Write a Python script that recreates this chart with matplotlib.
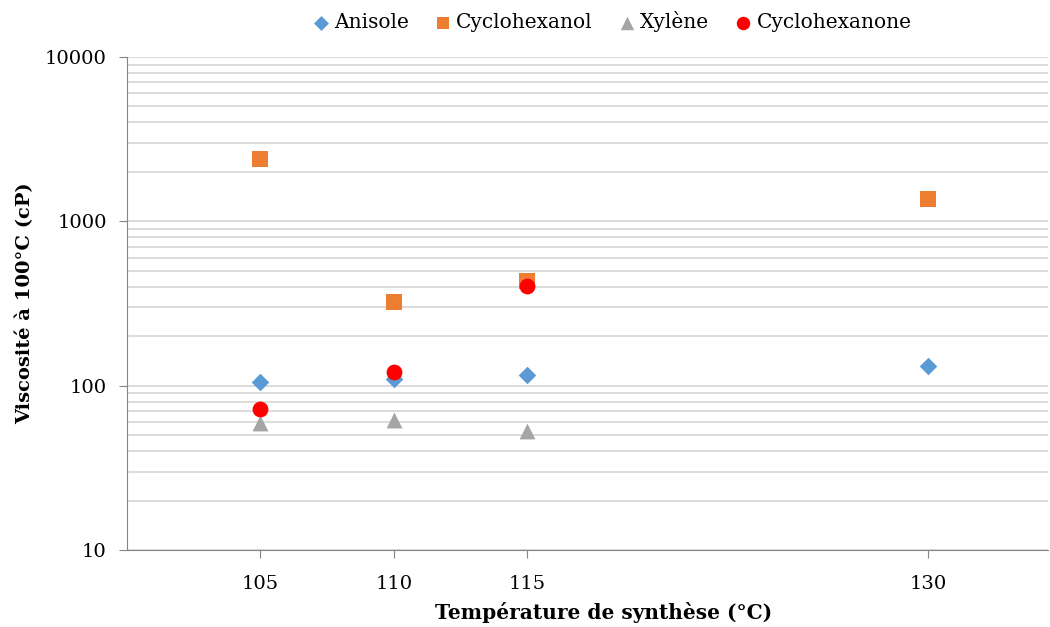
import matplotlib.pyplot as plt
from matplotlib.ticker import LogLocator, NullFormatter

temps = [105, 110, 115, 130]

anisole = [105, 110, 116, 131]
cyclohexanol = [2410, 321, 434, 1375]
xylene_t = [105, 110, 115]
xylene = [59, 62, 53]
cyclohexanone_t = [105, 110, 115]
cyclohexanone = [72, 121, 402]

plt.rcParams['font.family'] = ['DejaVu Serif']

fig = plt.figure(figsize=(10.5, 6.27), dpi=100)
ax = fig.add_axes([127 / 1050, 1 - 550 / 627, (1048 - 127) / 1050, (550 - 57) / 627])

ax.scatter(temps, anisole, marker='D', s=80, color='#5B9BD5', label='Anisole', zorder=3, linewidths=0)
ax.scatter(temps, cyclohexanol, marker='s', s=120, color='#ED7D31', label='Cyclohexanol', zorder=3, linewidths=0)
ax.scatter(xylene_t, xylene, marker='^', s=130, color='#A5A5A5', label='Xylène', zorder=3, linewidths=0)
ax.scatter(cyclohexanone_t, cyclohexanone, marker='o', s=130, color='#FF0000', label='Cyclohexanone', zorder=4, linewidths=0)

ax.set_yscale('log')
ax.set_ylim(10, 10000)
ax.set_xlim(100, 134.5)
ax.set_xticks(temps)
ax.set_yticks([10, 100, 1000, 10000])
ax.set_yticklabels(['10', '100', '1000', '10000'])
ax.yaxis.set_minor_locator(LogLocator(base=10, subs=range(2, 10)))
ax.yaxis.set_minor_formatter(NullFormatter())

ax.grid(True, which='both', axis='y', color='#D6D6D6', linewidth=1.2)
ax.set_axisbelow(True)

for side in ['top', 'right']:
    ax.spines[side].set_visible(False)
ax.spines['left'].set_color('#868686')
ax.spines['bottom'].set_color('#868686')
ax.tick_params(axis='y', which='major', length=5.5, color='#868686', labelsize=14, pad=9)
ax.tick_params(axis='y', which='minor', length=0)
ax.tick_params(axis='x', length=6, color='#868686', labelsize=14, pad=12)

ax.set_xlabel('Température de synthèse (°C)', fontsize=14.5, fontweight='bold', va='center')
ax.xaxis.set_label_coords(0.517, -0.127)
ax.set_ylabel('Viscosité à 100°C (cP)', fontsize=14, fontweight='bold', labelpad=8)

fig.legend(loc='center', bbox_to_anchor=(611 / 1050, 1 - 22 / 627), ncol=4, frameon=False,
           fontsize=14.5, handletextpad=0.15, columnspacing=1.2, markerscale=0.85,
           handlelength=1.0)

fig.savefig('out.png', dpi=100)
